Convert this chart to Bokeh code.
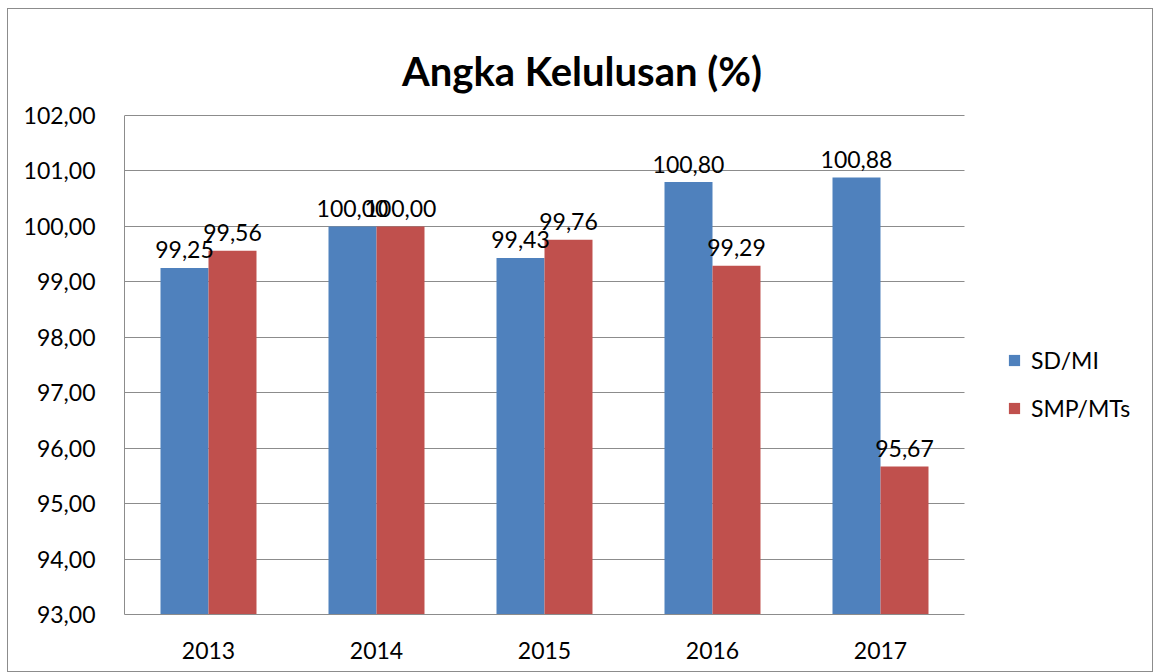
from bokeh.plotting import figure
from bokeh.models import (Range1d, CustomJSTickFormatter, Legend, LegendItem, Grid,
                          ColumnDataSource, Label, FixedTicker)
from bokeh.transform import dodge
from bokeh.core.properties import value
from bokeh.embed import file_html
from bokeh.resources import INLINE

years = ["2013", "2014", "2015", "2016", "2017"]
sd_mi = [99.25, 100.00, 99.43, 100.80, 100.88]
smp_mts = [99.56, 100.00, 99.76, 99.29, 95.67]
series_names = ["SD/MI", "SMP/MTs"]
title_text = "Angka Kelulusan (%)"
y_ticks = [93, 94, 95, 96, 97, 98, 99, 100, 101, 102]

BLUE = "#4F81BD"
RED = "#C0504D"
GRID = "#8C8C8C"
FONT = "Lato"

def fmt(v):
    return f"{v:.2f}".replace(".", ",")

# category slots on a numeric scale (one unit per year, centred at i + 0.5)
xpos = [i + 0.5 for i in range(len(years))]
n = len(years)
y0, y1 = y_ticks[0], y_ticks[-1]

src = ColumnDataSource(dict(
    x=xpos, sd=sd_mi, smp=smp_mts,
    sd_lbl=[fmt(v) for v in sd_mi], smp_lbl=[fmt(v) for v in smp_mts],
))

# bar area: 840 x 499 px; the frame extends right (legend) and up (title)
FW, FH = 1027, 605
px_per_unit = 499 / (y1 - y0)
p = figure(frame_width=FW, frame_height=FH, x_range=Range1d(0, n * FW / 840),
           y_range=Range1d(y0, y0 + FH / px_per_unit), output_backend="svg",
           toolbar_location=None,
           min_border_left=116, min_border_right=1, min_border_top=0, min_border_bottom=57)
p.title.visible = False
p.outline_line_color = None
p.styles = {"border": "1px solid #8C8C8C", "margin-left": "7px", "margin-top": "8px"}

bw = 0.2857
r1 = p.vbar(x=dodge("x", -bw / 2), top="sd", bottom=y0, width=bw,
            source=src, fill_color=BLUE, line_color=None)
r2 = p.vbar(x=dodge("x", bw / 2), top="smp", bottom=y0, width=bw,
            source=src, fill_color=RED, line_color=None)

for col, lbl, off in (("sd", "sd_lbl", -bw / 2), ("smp", "smp_lbl", bw / 2)):
    p.text(x=dodge("x", off), y=col, text=lbl, source=src,
           text_align="center", text_baseline="alphabetic", y_offset=-18,
           text_font=value(FONT), text_font_size="23px", text_color="#000000")

p.xaxis.ticker = FixedTicker(ticks=xpos)
p.xaxis.major_label_overrides = {x: y for x, y in zip(xpos, years)}
p.xaxis.bounds = (0, n)
p.yaxis.ticker = FixedTicker(ticks=y_ticks)
p.yaxis.bounds = (y0, y1)
p.yaxis.formatter = CustomJSTickFormatter(code="return tick.toFixed(2).replace('.', ',');")
for ax in (p.xaxis, p.yaxis):
    ax.axis_line_color = GRID
    ax.major_tick_line_color = None
    ax.minor_tick_line_color = None
    ax.major_label_text_font = FONT
    ax.major_label_text_font_size = "23px"
    ax.major_label_text_color = "#000000"
p.yaxis.major_label_standoff = 23
p.xaxis.major_label_standoff = 21

p.xgrid.grid_line_color = None
p.ygrid.grid_line_color = GRID
p.ygrid.ticker = FixedTicker(ticks=y_ticks)
if "cross_bounds" in Grid.properties():
    p.ygrid.cross_bounds = (0, n)

# chart title, centred over the whole chart, baseline 45px above the top gridline
title = Label(x=(582.5 - 125) / 168, y=y1 + 45 / px_per_unit, text=title_text,
              text_font=FONT, text_font_size="40px", text_font_style="bold",
              text_color="#000000", text_align="center", text_baseline="alphabetic")
p.add_layout(title)

legend = Legend(items=[LegendItem(label=series_names[0], renderers=[r1]),
                       LegendItem(label=series_names[1], renderers=[r2])],
                location=(883, 192), padding=0, margin=0, border_line_color=None,
                background_fill_alpha=0, glyph_width=14, glyph_height=14,
                label_standoff=10, spacing=20, label_text_font=FONT,
                label_text_font_size="23px", label_text_color="#000000")
p.add_layout(legend)

open("out.html", "w").write(file_html(p, INLINE))
